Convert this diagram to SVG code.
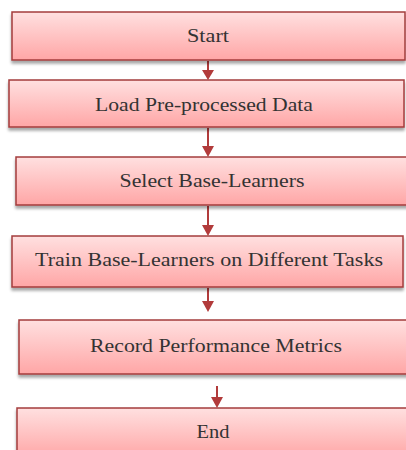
<svg xmlns="http://www.w3.org/2000/svg" width="406" height="450" viewBox="0 0 406 450">
<defs>
<linearGradient id="g" x1="0" y1="0" x2="0" y2="1">
<stop offset="0" stop-color="#ffe0e0"/>
<stop offset="1" stop-color="#ffa6a6"/>
</linearGradient>
<filter id="sh" x="-5%" y="-20%" width="110%" height="150%">
<feGaussianBlur in="SourceAlpha" stdDeviation="1.5"/>
<feOffset dx="0" dy="3" result="b"/>
<feComponentTransfer><feFuncA type="linear" slope="0.35"/></feComponentTransfer>
<feMerge><feMergeNode/><feMergeNode in="SourceGraphic"/></feMerge>
</filter>
</defs>
<style>
.box{fill:url(#g);stroke:#a43c3c;stroke-width:1.5;filter:url(#sh)}
.lbl{font-family:"Liberation Serif","DejaVu Serif",serif;font-size:18.5px;fill:#333;text-anchor:middle}
.conn{stroke:#b23b3b;stroke-width:2;fill:none}
.tip{fill:#b23b3b}
</style>
<g id="connectors">
<line class="conn" x1="208" y1="61" x2="208" y2="72"/><path class="tip" d="M202,70 L214,70 L208,80 Z"/>
<line class="conn" x1="208" y1="128" x2="208" y2="148"/><path class="tip" d="M202,146 L214,146 L208,157 Z"/>
<line class="conn" x1="208" y1="206" x2="208" y2="227"/><path class="tip" d="M202,225 L214,225 L208,236 Z"/>
<line class="conn" x1="208" y1="288" x2="208" y2="303"/><path class="tip" d="M202,301 L214,301 L208,312 Z"/>
<line class="conn" x1="217" y1="386" x2="217" y2="399"/><path class="tip" d="M211,397 L223,397 L217,408 Z"/>
</g>
<g id="start"><rect class="box" x="12" y="12" width="393" height="48"/><text class="lbl" x="208" y="42" textLength="42" lengthAdjust="spacingAndGlyphs">Start</text></g>
<g id="load"><rect class="box" x="9" y="80" width="395" height="47"/><text class="lbl" x="204" y="111" textLength="218" lengthAdjust="spacingAndGlyphs">Load Pre-processed Data</text></g>
<g id="select"><rect class="box" x="16" y="157" width="392" height="48"/><text class="lbl" x="212" y="187" textLength="185" lengthAdjust="spacingAndGlyphs">Select Base-Learners</text></g>
<g id="train"><rect class="box" x="12" y="236" width="391" height="51"/><text class="lbl" x="209" y="266" textLength="348" lengthAdjust="spacingAndGlyphs">Train Base-Learners on Different Tasks</text></g>
<g id="record"><rect class="box" x="19" y="320" width="392" height="54"/><text class="lbl" x="216" y="352" textLength="252" lengthAdjust="spacingAndGlyphs">Record Performance Metrics</text></g>
<g id="end"><rect class="box" x="17" y="408" width="394" height="50"/><text class="lbl" x="213" y="438" textLength="33" lengthAdjust="spacingAndGlyphs">End</text></g>
</svg>
